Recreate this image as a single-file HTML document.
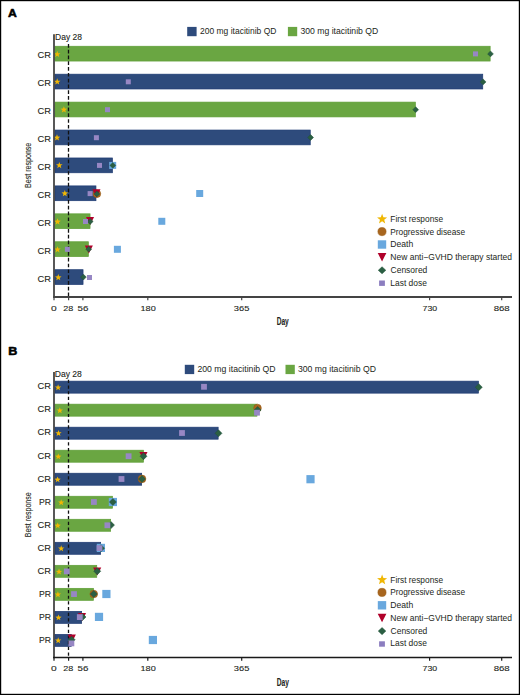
<!DOCTYPE html>
<html><head><meta charset="utf-8"><style>
html,body{margin:0;padding:0;background:#fff;}
body{width:520px;height:695px;overflow:hidden;}
svg{display:block;font-family:"Liberation Sans",sans-serif;}
.frame{position:absolute;left:0;top:0;width:518px;height:693px;border:1px solid #000;border-right-width:1.4px;}
</style></head><body>
<svg width="520" height="695" viewBox="0 0 520 695">
<rect x="0" y="0" width="520" height="695" fill="#fff"/>
<rect x="54.95" y="46.25" width="435.20" height="14.80" fill="#6AA642" stroke="#5E9E36" stroke-width="0.7"/>
<rect x="54.95" y="74.18" width="427.80" height="14.80" fill="#2E4B7C" stroke="#1E3B73" stroke-width="0.7"/>
<rect x="54.95" y="102.11" width="360.40" height="14.80" fill="#6AA642" stroke="#5E9E36" stroke-width="0.7"/>
<rect x="54.95" y="130.04" width="255.30" height="14.80" fill="#2E4B7C" stroke="#1E3B73" stroke-width="0.7"/>
<rect x="54.95" y="157.97" width="57.50" height="14.80" fill="#2E4B7C" stroke="#1E3B73" stroke-width="0.7"/>
<rect x="54.95" y="185.90" width="41.00" height="14.80" fill="#2E4B7C" stroke="#1E3B73" stroke-width="0.7"/>
<rect x="54.95" y="213.83" width="35.10" height="14.80" fill="#6AA642" stroke="#5E9E36" stroke-width="0.7"/>
<rect x="54.95" y="241.76" width="33.40" height="14.80" fill="#6AA642" stroke="#5E9E36" stroke-width="0.7"/>
<rect x="54.95" y="269.69" width="28.10" height="14.80" fill="#2E4B7C" stroke="#1E3B73" stroke-width="0.7"/>
<line x1="68.50" y1="44.00" x2="68.50" y2="297.00" stroke="#111" stroke-width="1.3" stroke-dasharray="3.7,2.08"/>
<polygon points="57.20,50.85 58.05,53.13 60.48,53.23 58.58,54.75 59.23,57.09 57.20,55.75 55.17,57.09 55.82,54.75 53.92,53.23 56.35,53.13" fill="#F0B704"/>
<polygon points="487.60,53.90 490.50,51.00 493.40,53.90 490.50,56.80" fill="#2B5F43" stroke="#1F5236" stroke-width="0.5" stroke-linejoin="round"/>
<rect x="473.00" y="51.40" width="5.00" height="5.00" fill="#9787C4" />
<polygon points="57.20,78.35 58.05,80.63 60.48,80.73 58.58,82.25 59.23,84.59 57.20,83.25 55.17,84.59 55.82,82.25 53.92,80.73 56.35,80.63" fill="#F0B704"/>
<polygon points="480.20,81.90 483.10,79.00 486.00,81.90 483.10,84.80" fill="#2B5F43" stroke="#1F5236" stroke-width="0.5" stroke-linejoin="round"/>
<rect x="125.80" y="79.30" width="5.00" height="5.00" fill="#9787C4" />
<polygon points="63.90,106.25 64.75,108.53 67.18,108.63 65.28,110.15 65.93,112.49 63.90,111.15 61.87,112.49 62.52,110.15 60.62,108.63 63.05,108.53" fill="#F0B704"/>
<polygon points="412.80,109.70 415.70,106.80 418.60,109.70 415.70,112.60" fill="#2B5F43" stroke="#1F5236" stroke-width="0.5" stroke-linejoin="round"/>
<rect x="105.00" y="107.20" width="5.00" height="5.00" fill="#9787C4" />
<polygon points="57.00,134.25 57.85,136.53 60.28,136.63 58.38,138.15 59.03,140.49 57.00,139.15 54.97,140.49 55.62,138.15 53.72,136.63 56.15,136.53" fill="#F0B704"/>
<polygon points="307.70,137.50 310.60,134.60 313.50,137.50 310.60,140.40" fill="#2B5F43" stroke="#1F5236" stroke-width="0.5" stroke-linejoin="round"/>
<rect x="93.90" y="135.20" width="5.00" height="5.00" fill="#9787C4" />
<polygon points="59.30,161.95 60.15,164.23 62.58,164.33 60.68,165.85 61.33,168.19 59.30,166.85 57.27,168.19 57.92,165.85 56.02,164.33 58.45,164.23" fill="#F0B704"/>
<rect x="109.20" y="161.90" width="7.00" height="7.00" fill="#69A8DE" />
<polygon points="109.90,165.40 112.80,162.50 115.70,165.40 112.80,168.30" fill="#2B5F43" stroke="#1F5236" stroke-width="0.5" stroke-linejoin="round"/>
<rect x="97.00" y="162.90" width="5.00" height="5.00" fill="#9787C4" />
<polygon points="64.80,190.05 65.65,192.33 68.08,192.43 66.18,193.95 66.83,196.29 64.80,194.95 62.77,196.29 63.42,193.95 61.52,192.43 63.95,192.33" fill="#F0B704"/>
<rect x="196.20" y="190.00" width="7.00" height="7.00" fill="#69A8DE" />
<circle cx="96.90" cy="193.80" r="3.85" fill="#A8661F" stroke="#96560F" stroke-width="0.5"/>
<polygon points="92.40,189.20 100.50,189.20 96.45,197.20" fill="#B0002A"/>
<polygon points="94.00,193.90 96.90,191.00 99.80,193.90 96.90,196.80" fill="#2B5F43" stroke="#1F5236" stroke-width="0.5" stroke-linejoin="round"/>
<rect x="87.60" y="191.10" width="5.00" height="5.00" fill="#9787C4" />
<polygon points="57.50,218.25 58.35,220.53 60.78,220.63 58.88,222.15 59.53,224.49 57.50,223.15 55.47,224.49 56.12,222.15 54.22,220.63 56.65,220.53" fill="#F0B704"/>
<rect x="158.30" y="217.80" width="7.00" height="7.00" fill="#69A8DE" />
<polygon points="86.00,217.10 94.10,217.10 90.05,225.10" fill="#B0002A"/>
<polygon points="87.30,221.50 90.20,218.60 93.10,221.50 90.20,224.40" fill="#2B5F43" stroke="#1F5236" stroke-width="0.5" stroke-linejoin="round"/>
<rect x="83.00" y="219.00" width="5.00" height="5.00" fill="#9787C4" />
<polygon points="57.50,246.15 58.35,248.43 60.78,248.53 58.88,250.05 59.53,252.39 57.50,251.05 55.47,252.39 56.12,250.05 54.22,248.53 56.65,248.43" fill="#F0B704"/>
<rect x="113.90" y="245.80" width="7.00" height="7.00" fill="#69A8DE" />
<polygon points="84.80,245.40 92.90,245.40 88.85,253.40" fill="#B0002A"/>
<polygon points="85.80,249.20 88.70,246.30 91.60,249.20 88.70,252.10" fill="#2B5F43" stroke="#1F5236" stroke-width="0.5" stroke-linejoin="round"/>
<rect x="64.90" y="246.80" width="5.00" height="5.00" fill="#9787C4" />
<polygon points="58.30,274.05 59.15,276.33 61.58,276.43 59.68,277.95 60.33,280.29 58.30,278.95 56.27,280.29 56.92,277.95 55.02,276.43 57.45,276.33" fill="#F0B704"/>
<polygon points="80.50,277.10 83.40,274.20 86.30,277.10 83.40,280.00" fill="#2B5F43" stroke="#1F5236" stroke-width="0.5" stroke-linejoin="round"/>
<rect x="87.00" y="275.00" width="5.00" height="5.00" fill="#9787C4" />
<text x="37.53" y="58.15" font-size="8.9" font-weight="normal" fill="#231F20" textLength="13.40" lengthAdjust="spacingAndGlyphs"  stroke="#231F20" stroke-width="0.1">CR</text>
<text x="37.53" y="86.08" font-size="8.9" font-weight="normal" fill="#231F20" textLength="13.40" lengthAdjust="spacingAndGlyphs"  stroke="#231F20" stroke-width="0.1">CR</text>
<text x="37.53" y="114.01" font-size="8.9" font-weight="normal" fill="#231F20" textLength="13.40" lengthAdjust="spacingAndGlyphs"  stroke="#231F20" stroke-width="0.1">CR</text>
<text x="37.53" y="141.94" font-size="8.9" font-weight="normal" fill="#231F20" textLength="13.40" lengthAdjust="spacingAndGlyphs"  stroke="#231F20" stroke-width="0.1">CR</text>
<text x="37.53" y="169.87" font-size="8.9" font-weight="normal" fill="#231F20" textLength="13.40" lengthAdjust="spacingAndGlyphs"  stroke="#231F20" stroke-width="0.1">CR</text>
<text x="37.53" y="197.80" font-size="8.9" font-weight="normal" fill="#231F20" textLength="13.40" lengthAdjust="spacingAndGlyphs"  stroke="#231F20" stroke-width="0.1">CR</text>
<text x="37.53" y="225.73" font-size="8.9" font-weight="normal" fill="#231F20" textLength="13.40" lengthAdjust="spacingAndGlyphs"  stroke="#231F20" stroke-width="0.1">CR</text>
<text x="37.53" y="253.66" font-size="8.9" font-weight="normal" fill="#231F20" textLength="13.40" lengthAdjust="spacingAndGlyphs"  stroke="#231F20" stroke-width="0.1">CR</text>
<text x="37.53" y="281.59" font-size="8.9" font-weight="normal" fill="#231F20" textLength="13.40" lengthAdjust="spacingAndGlyphs"  stroke="#231F20" stroke-width="0.1">CR</text>
<line x1="54.00" y1="34.20" x2="54.00" y2="297.80" stroke="#3a3a3a" stroke-width="1.7" />
<line x1="53.20" y1="297.00" x2="512.00" y2="297.00" stroke="#444" stroke-width="2.0" />
<line x1="54.00" y1="297.00" x2="54.00" y2="300.20" stroke="#444" stroke-width="1.2" />
<text x="50.90" y="310.80" font-size="7.8" font-weight="normal" fill="#231F20" textLength="5.70" lengthAdjust="spacingAndGlyphs"  stroke="#231F20" stroke-width="0.1">0</text>
<line x1="68.60" y1="297.00" x2="68.60" y2="300.20" stroke="#444" stroke-width="1.2" />
<text x="63.35" y="310.80" font-size="7.8" font-weight="normal" fill="#231F20" textLength="10.05" lengthAdjust="spacingAndGlyphs"  stroke="#231F20" stroke-width="0.1">28</text>
<line x1="82.90" y1="297.00" x2="82.90" y2="300.20" stroke="#444" stroke-width="1.2" />
<text x="77.51" y="310.80" font-size="7.8" font-weight="normal" fill="#231F20" textLength="10.82" lengthAdjust="spacingAndGlyphs"  stroke="#231F20" stroke-width="0.1">56</text>
<line x1="147.80" y1="297.00" x2="147.80" y2="300.20" stroke="#444" stroke-width="1.2" />
<text x="140.50" y="310.80" font-size="7.8" font-weight="normal" fill="#231F20" textLength="15.25" lengthAdjust="spacingAndGlyphs"  stroke="#231F20" stroke-width="0.1">180</text>
<line x1="241.70" y1="297.00" x2="241.70" y2="300.20" stroke="#444" stroke-width="1.2" />
<text x="233.85" y="310.80" font-size="7.8" font-weight="normal" fill="#231F20" textLength="15.55" lengthAdjust="spacingAndGlyphs"  stroke="#231F20" stroke-width="0.1">365</text>
<line x1="429.60" y1="297.00" x2="429.60" y2="300.20" stroke="#444" stroke-width="1.2" />
<text x="422.55" y="310.80" font-size="7.8" font-weight="normal" fill="#231F20" textLength="14.59" lengthAdjust="spacingAndGlyphs"  stroke="#231F20" stroke-width="0.1">730</text>
<line x1="501.70" y1="297.00" x2="501.70" y2="300.20" stroke="#444" stroke-width="1.2" />
<text x="493.68" y="310.80" font-size="7.8" font-weight="normal" fill="#231F20" textLength="16.04" lengthAdjust="spacingAndGlyphs"  stroke="#231F20" stroke-width="0.1">868</text>
<rect x="54.95" y="381.15" width="423.50" height="12.00" fill="#2E4B7C" stroke="#1E3B73" stroke-width="0.7"/>
<rect x="54.95" y="404.17" width="202.00" height="12.00" fill="#6AA642" stroke="#5E9E36" stroke-width="0.7"/>
<rect x="54.95" y="427.19" width="163.20" height="12.00" fill="#2E4B7C" stroke="#1E3B73" stroke-width="0.7"/>
<rect x="54.95" y="450.21" width="88.50" height="12.00" fill="#6AA642" stroke="#5E9E36" stroke-width="0.7"/>
<rect x="54.95" y="473.23" width="86.70" height="12.00" fill="#2E4B7C" stroke="#1E3B73" stroke-width="0.7"/>
<rect x="54.95" y="496.25" width="57.60" height="12.00" fill="#6AA642" stroke="#5E9E36" stroke-width="0.7"/>
<rect x="54.95" y="519.27" width="55.70" height="12.00" fill="#6AA642" stroke="#5E9E36" stroke-width="0.7"/>
<rect x="54.95" y="542.29" width="45.70" height="12.00" fill="#2E4B7C" stroke="#1E3B73" stroke-width="0.7"/>
<rect x="54.95" y="565.31" width="41.80" height="12.00" fill="#6AA642" stroke="#5E9E36" stroke-width="0.7"/>
<rect x="54.95" y="588.33" width="38.45" height="12.00" fill="#6AA642" stroke="#5E9E36" stroke-width="0.7"/>
<rect x="54.95" y="611.35" width="26.70" height="12.00" fill="#2E4B7C" stroke="#1E3B73" stroke-width="0.7"/>
<rect x="54.95" y="634.37" width="16.30" height="12.00" fill="#2E4B7C" stroke="#1E3B73" stroke-width="0.7"/>
<line x1="68.50" y1="379.80" x2="68.50" y2="657.50" stroke="#111" stroke-width="1.3" stroke-dasharray="3.2,2.48"/>
<polygon points="58.10,384.20 58.91,386.38 61.24,386.48 59.42,387.93 60.04,390.17 58.10,388.89 56.16,390.17 56.78,387.93 54.96,386.48 57.29,386.38" fill="#F0B704"/>
<polygon points="475.30,387.20 478.80,383.70 482.30,387.20 478.80,390.70" fill="#2B5F43" stroke="#1F5236" stroke-width="0.5" stroke-linejoin="round"/>
<rect x="201.10" y="383.90" width="5.80" height="5.80" fill="#9787C4" />
<polygon points="59.80,407.30 60.61,409.48 62.94,409.58 61.12,411.03 61.74,413.27 59.80,411.99 57.86,413.27 58.48,411.03 56.66,409.58 58.99,409.48" fill="#F0B704"/>
<circle cx="257.50" cy="408.00" r="3.85" fill="#A8661F" stroke="#96560F" stroke-width="0.5"/>
<polygon points="254.10,410.00 257.60,406.50 261.10,410.00 257.60,413.50" fill="#2B5F43" stroke="#1F5236" stroke-width="0.5" stroke-linejoin="round"/>
<rect x="254.10" y="409.80" width="5.80" height="5.80" fill="#9787C4" />
<polygon points="58.50,430.00 59.31,432.18 61.64,432.28 59.82,433.73 60.44,435.97 58.50,434.69 56.56,435.97 57.18,433.73 55.36,432.28 57.69,432.18" fill="#F0B704"/>
<polygon points="215.00,433.30 218.50,429.80 222.00,433.30 218.50,436.80" fill="#2B5F43" stroke="#1F5236" stroke-width="0.5" stroke-linejoin="round"/>
<rect x="179.10" y="430.10" width="5.80" height="5.80" fill="#9787C4" />
<polygon points="58.30,453.40 59.11,455.58 61.44,455.68 59.62,457.13 60.24,459.37 58.30,458.09 56.36,459.37 56.98,457.13 55.16,455.68 57.49,455.58" fill="#F0B704"/>
<polygon points="139.40,451.90 147.50,451.90 143.45,459.90" fill="#B0002A"/>
<polygon points="140.00,456.20 143.50,452.70 147.00,456.20 143.50,459.70" fill="#2B5F43" stroke="#1F5236" stroke-width="0.5" stroke-linejoin="round"/>
<rect x="125.70" y="453.30" width="5.80" height="5.80" fill="#9787C4" />
<polygon points="57.60,476.40 58.41,478.58 60.74,478.68 58.92,480.13 59.54,482.37 57.60,481.09 55.66,482.37 56.28,480.13 54.46,478.68 56.79,478.58" fill="#F0B704"/>
<rect x="306.40" y="475.10" width="8.20" height="8.20" fill="#69A8DE" />
<circle cx="142.00" cy="478.90" r="3.85" fill="#A8661F" stroke="#96560F" stroke-width="0.5"/>
<polygon points="138.50,479.00 142.00,475.50 145.50,479.00 142.00,482.50" fill="#2B5F43" stroke="#1F5236" stroke-width="0.5" stroke-linejoin="round"/>
<rect x="118.60" y="476.10" width="5.80" height="5.80" fill="#9787C4" />
<polygon points="61.20,499.30 62.01,501.48 64.34,501.58 62.52,503.03 63.14,505.27 61.20,503.99 59.26,505.27 59.88,503.03 58.06,501.58 60.39,501.48" fill="#F0B704"/>
<rect x="108.80" y="497.90" width="8.20" height="8.20" fill="#69A8DE" />
<polygon points="109.40,502.00 112.90,498.50 116.40,502.00 112.90,505.50" fill="#2B5F43" stroke="#1F5236" stroke-width="0.5" stroke-linejoin="round"/>
<rect x="91.00" y="499.10" width="5.80" height="5.80" fill="#9787C4" />
<polygon points="57.70,522.40 58.51,524.58 60.84,524.68 59.02,526.13 59.64,528.37 57.70,527.09 55.76,528.37 56.38,526.13 54.56,524.68 56.89,524.58" fill="#F0B704"/>
<polygon points="107.50,525.10 111.00,521.60 114.50,525.10 111.00,528.60" fill="#2B5F43" stroke="#1F5236" stroke-width="0.5" stroke-linejoin="round"/>
<rect x="104.50" y="522.40" width="5.80" height="5.80" fill="#9787C4" />
<polygon points="61.20,545.20 62.01,547.38 64.34,547.48 62.52,548.93 63.14,551.17 61.20,549.89 59.26,551.17 59.88,548.93 58.06,547.48 60.39,547.38" fill="#F0B704"/>
<rect x="96.80" y="543.80" width="8.20" height="8.20" fill="#69A8DE" />
<polygon points="97.50,548.20 101.00,544.70 104.50,548.20 101.00,551.70" fill="#2B5F43" stroke="#1F5236" stroke-width="0.5" stroke-linejoin="round"/>
<rect x="96.60" y="545.20" width="5.80" height="5.80" fill="#9787C4" />
<polygon points="59.00,568.60 59.81,570.78 62.14,570.88 60.32,572.33 60.94,574.57 59.00,573.29 57.06,574.57 57.68,572.33 55.86,570.88 58.19,570.78" fill="#F0B704"/>
<polygon points="93.10,567.50 101.25,567.50 97.17,575.50" fill="#B0002A"/>
<polygon points="93.75,571.25 97.25,567.75 100.75,571.25 97.25,574.75" fill="#2B5F43" stroke="#1F5236" stroke-width="0.5" stroke-linejoin="round"/>
<rect x="63.90" y="568.50" width="5.80" height="5.80" fill="#9787C4" />
<polygon points="57.90,591.30 58.71,593.48 61.04,593.58 59.22,595.03 59.84,597.27 57.90,595.99 55.96,597.27 56.58,595.03 54.76,593.58 57.09,593.48" fill="#F0B704"/>
<rect x="102.30" y="589.90" width="8.20" height="8.20" fill="#69A8DE" />
<circle cx="93.75" cy="594.00" r="3.85" fill="#A8661F" stroke="#96560F" stroke-width="0.5"/>
<polygon points="90.25,594.00 93.75,590.50 97.25,594.00 93.75,597.50" fill="#2B5F43" stroke="#1F5236" stroke-width="0.5" stroke-linejoin="round"/>
<rect x="71.10" y="591.20" width="5.80" height="5.80" fill="#9787C4" />
<polygon points="58.50,614.40 59.31,616.58 61.64,616.68 59.82,618.13 60.44,620.37 58.50,619.09 56.56,620.37 57.18,618.13 55.36,616.68 57.69,616.58" fill="#F0B704"/>
<rect x="94.90" y="612.80" width="8.20" height="8.20" fill="#69A8DE" />
<polygon points="78.00,613.10 86.10,613.10 82.05,621.10" fill="#B0002A"/>
<polygon points="79.00,617.00 82.50,613.50 86.00,617.00 82.50,620.50" fill="#2B5F43" stroke="#1F5236" stroke-width="0.5" stroke-linejoin="round"/>
<rect x="76.90" y="614.20" width="5.80" height="5.80" fill="#9787C4" />
<polygon points="58.20,637.30 59.01,639.48 61.34,639.58 59.52,641.03 60.14,643.27 58.20,641.99 56.26,643.27 56.88,641.03 55.06,639.58 57.39,639.48" fill="#F0B704"/>
<rect x="148.80" y="635.90" width="8.20" height="8.20" fill="#69A8DE" />
<polygon points="67.70,634.50 75.90,634.50 71.80,642.50" fill="#B0002A"/>
<polygon points="68.10,639.70 71.60,636.20 75.10,639.70 71.60,643.20" fill="#2B5F43" stroke="#1F5236" stroke-width="0.5" stroke-linejoin="round"/>
<rect x="68.50" y="640.50" width="5.80" height="5.80" fill="#9787C4" />
<text x="37.53" y="389.45" font-size="8.9" font-weight="normal" fill="#231F20" textLength="13.40" lengthAdjust="spacingAndGlyphs"  stroke="#231F20" stroke-width="0.1">CR</text>
<text x="37.53" y="412.47" font-size="8.9" font-weight="normal" fill="#231F20" textLength="13.40" lengthAdjust="spacingAndGlyphs"  stroke="#231F20" stroke-width="0.1">CR</text>
<text x="37.53" y="435.49" font-size="8.9" font-weight="normal" fill="#231F20" textLength="13.40" lengthAdjust="spacingAndGlyphs"  stroke="#231F20" stroke-width="0.1">CR</text>
<text x="37.53" y="458.51" font-size="8.9" font-weight="normal" fill="#231F20" textLength="13.40" lengthAdjust="spacingAndGlyphs"  stroke="#231F20" stroke-width="0.1">CR</text>
<text x="37.53" y="481.53" font-size="8.9" font-weight="normal" fill="#231F20" textLength="13.40" lengthAdjust="spacingAndGlyphs"  stroke="#231F20" stroke-width="0.1">CR</text>
<text x="38.89" y="504.55" font-size="8.9" font-weight="normal" fill="#231F20" textLength="12.01" lengthAdjust="spacingAndGlyphs"  stroke="#231F20" stroke-width="0.1">PR</text>
<text x="37.53" y="527.57" font-size="8.9" font-weight="normal" fill="#231F20" textLength="13.40" lengthAdjust="spacingAndGlyphs"  stroke="#231F20" stroke-width="0.1">CR</text>
<text x="37.53" y="550.59" font-size="8.9" font-weight="normal" fill="#231F20" textLength="13.40" lengthAdjust="spacingAndGlyphs"  stroke="#231F20" stroke-width="0.1">CR</text>
<text x="37.53" y="573.61" font-size="8.9" font-weight="normal" fill="#231F20" textLength="13.40" lengthAdjust="spacingAndGlyphs"  stroke="#231F20" stroke-width="0.1">CR</text>
<text x="38.89" y="596.63" font-size="8.9" font-weight="normal" fill="#231F20" textLength="12.01" lengthAdjust="spacingAndGlyphs"  stroke="#231F20" stroke-width="0.1">PR</text>
<text x="38.89" y="619.65" font-size="8.9" font-weight="normal" fill="#231F20" textLength="12.01" lengthAdjust="spacingAndGlyphs"  stroke="#231F20" stroke-width="0.1">PR</text>
<text x="38.89" y="642.67" font-size="8.9" font-weight="normal" fill="#231F20" textLength="12.01" lengthAdjust="spacingAndGlyphs"  stroke="#231F20" stroke-width="0.1">PR</text>
<line x1="54.00" y1="371.90" x2="54.00" y2="658.30" stroke="#3a3a3a" stroke-width="1.7" />
<line x1="53.20" y1="657.50" x2="512.00" y2="657.50" stroke="#1a1a1a" stroke-width="1.5" />
<line x1="54.00" y1="657.50" x2="54.00" y2="660.70" stroke="#1a1a1a" stroke-width="1.2" />
<text x="50.90" y="671.40" font-size="7.8" font-weight="normal" fill="#231F20" textLength="5.70" lengthAdjust="spacingAndGlyphs"  stroke="#231F20" stroke-width="0.1">0</text>
<line x1="68.60" y1="657.50" x2="68.60" y2="660.70" stroke="#1a1a1a" stroke-width="1.2" />
<text x="63.35" y="671.40" font-size="7.8" font-weight="normal" fill="#231F20" textLength="10.05" lengthAdjust="spacingAndGlyphs"  stroke="#231F20" stroke-width="0.1">28</text>
<line x1="82.90" y1="657.50" x2="82.90" y2="660.70" stroke="#1a1a1a" stroke-width="1.2" />
<text x="77.51" y="671.40" font-size="7.8" font-weight="normal" fill="#231F20" textLength="10.82" lengthAdjust="spacingAndGlyphs"  stroke="#231F20" stroke-width="0.1">56</text>
<line x1="147.80" y1="657.50" x2="147.80" y2="660.70" stroke="#1a1a1a" stroke-width="1.2" />
<text x="140.50" y="671.40" font-size="7.8" font-weight="normal" fill="#231F20" textLength="15.25" lengthAdjust="spacingAndGlyphs"  stroke="#231F20" stroke-width="0.1">180</text>
<line x1="241.70" y1="657.50" x2="241.70" y2="660.70" stroke="#1a1a1a" stroke-width="1.2" />
<text x="233.85" y="671.40" font-size="7.8" font-weight="normal" fill="#231F20" textLength="15.55" lengthAdjust="spacingAndGlyphs"  stroke="#231F20" stroke-width="0.1">365</text>
<line x1="429.60" y1="657.50" x2="429.60" y2="660.70" stroke="#1a1a1a" stroke-width="1.2" />
<text x="422.55" y="671.40" font-size="7.8" font-weight="normal" fill="#231F20" textLength="14.59" lengthAdjust="spacingAndGlyphs"  stroke="#231F20" stroke-width="0.1">730</text>
<line x1="501.70" y1="657.50" x2="501.70" y2="660.70" stroke="#1a1a1a" stroke-width="1.2" />
<text x="493.68" y="671.40" font-size="7.8" font-weight="normal" fill="#231F20" textLength="16.04" lengthAdjust="spacingAndGlyphs"  stroke="#231F20" stroke-width="0.1">868</text>
<text x="8.10" y="16.50" font-size="11.8" font-weight="bold" fill="#000" textLength="8.83" lengthAdjust="spacingAndGlyphs" stroke="#000" stroke-width="0.6" stroke-linejoin="round">A</text>
<text x="8.21" y="354.70" font-size="11.8" font-weight="bold" fill="#000" textLength="9.06" lengthAdjust="spacingAndGlyphs" stroke="#000" stroke-width="0.6" stroke-linejoin="round">B</text>
<text x="55.10" y="40.40" font-size="8.8" font-weight="normal" fill="#231F20" textLength="26.97" lengthAdjust="spacingAndGlyphs"  stroke="#231F20" stroke-width="0.1">Day 28</text>
<text x="54.70" y="377.00" font-size="8.8" font-weight="normal" fill="#231F20" textLength="27.18" lengthAdjust="spacingAndGlyphs"  stroke="#231F20" stroke-width="0.1">Day 28</text>
<rect x="187.20" y="26.90" width="9.40" height="9.30" fill="#2E4B7C" />
<text x="200.07" y="34.40" font-size="8.3" font-weight="normal" fill="#231F20" textLength="76.33" lengthAdjust="spacingAndGlyphs" stroke="none">200 mg itacitinib QD</text>
<rect x="287.90" y="26.90" width="9.30" height="9.30" fill="#6AA642" />
<text x="300.47" y="34.40" font-size="8.3" font-weight="normal" fill="#231F20" textLength="77.74" lengthAdjust="spacingAndGlyphs" stroke="none">300 mg itacitinib QD</text>
<rect x="184.80" y="364.80" width="9.40" height="9.30" fill="#2E4B7C" />
<text x="197.46" y="372.10" font-size="8.3" font-weight="normal" fill="#231F20" textLength="78.15" lengthAdjust="spacingAndGlyphs" stroke="none">200 mg itacitinib QD</text>
<rect x="285.50" y="364.80" width="9.30" height="9.30" fill="#6AA642" />
<text x="297.97" y="372.10" font-size="8.3" font-weight="normal" fill="#231F20" textLength="78.04" lengthAdjust="spacingAndGlyphs" stroke="none">300 mg itacitinib QD</text>
<text transform="translate(31.2,187.30) rotate(-90)" x="-0.58" y="0" font-size="8.8" fill="#231F20" stroke="#231F20" stroke-width="0.1" textLength="45.19" lengthAdjust="spacingAndGlyphs">Best response</text>
<text transform="translate(31.2,536.70) rotate(-90)" x="-0.58" y="0" font-size="8.8" fill="#231F20" stroke="#231F20" stroke-width="0.1" textLength="44.89" lengthAdjust="spacingAndGlyphs">Best response</text>
<text x="276.66" y="324.70" font-size="11.2" font-weight="bold" fill="#231F20" textLength="12.08" lengthAdjust="spacingAndGlyphs"  stroke="#231F20" stroke-width="0.1">Day</text>
<text x="276.66" y="685.80" font-size="11.2" font-weight="bold" fill="#231F20" textLength="12.18" lengthAdjust="spacingAndGlyphs"  stroke="#231F20" stroke-width="0.1">Day</text>
<polygon points="382.10,213.80 383.41,217.30 387.14,217.46 384.22,219.79 385.22,223.39 382.10,221.33 378.98,223.39 379.98,219.79 377.06,217.46 380.79,217.30" fill="#F0B704"/>
<circle cx="382.00" cy="231.60" r="4.10" fill="#A8661F" stroke="#96560F" stroke-width="0.5"/>
<rect x="377.80" y="240.30" width="8.40" height="8.40" fill="#69A8DE" />
<polygon points="377.7,252.90 386.4,252.90 382.05,261.50" fill="#B0002A"/>
<polygon points="378.25,270.30 382.05,266.75 385.85,270.30 382.05,273.85" fill="#2B5F43" stroke="#1F5236" stroke-width="0.5" stroke-linejoin="round"/>
<rect x="379.10" y="280.50" width="5.80" height="5.40" fill="#8B7DBF" />
<text x="390.32" y="221.70" font-size="8.6" font-weight="normal" fill="#231F20" textLength="52.75" lengthAdjust="spacingAndGlyphs" stroke="none">First response</text>
<text x="390.32" y="234.50" font-size="8.6" font-weight="normal" fill="#231F20" textLength="74.75" lengthAdjust="spacingAndGlyphs" stroke="none">Progressive disease</text>
<text x="390.29" y="247.20" font-size="8.6" font-weight="normal" fill="#231F20" textLength="22.96" lengthAdjust="spacingAndGlyphs" stroke="none">Death</text>
<text x="390.30" y="260.20" font-size="8.6" font-weight="normal" fill="#231F20" textLength="121.65" lengthAdjust="spacingAndGlyphs" stroke="none">New anti−GVHD therapy started</text>
<text x="390.57" y="273.10" font-size="8.6" font-weight="normal" fill="#231F20" textLength="36.78" lengthAdjust="spacingAndGlyphs" stroke="none">Censored</text>
<text x="390.31" y="285.60" font-size="8.6" font-weight="normal" fill="#231F20" textLength="36.57" lengthAdjust="spacingAndGlyphs" stroke="none">Last dose</text>
<polygon points="382.10,574.60 383.41,578.10 387.14,578.26 384.22,580.59 385.22,584.19 382.10,582.13 378.98,584.19 379.98,580.59 377.06,578.26 380.79,578.10" fill="#F0B704"/>
<circle cx="382.00" cy="592.40" r="4.10" fill="#A8661F" stroke="#96560F" stroke-width="0.5"/>
<rect x="377.80" y="601.10" width="8.40" height="8.40" fill="#69A8DE" />
<polygon points="377.7,613.70 386.4,613.70 382.05,622.30" fill="#B0002A"/>
<polygon points="378.25,631.10 382.05,627.55 385.85,631.10 382.05,634.65" fill="#2B5F43" stroke="#1F5236" stroke-width="0.5" stroke-linejoin="round"/>
<rect x="379.10" y="641.30" width="5.80" height="5.40" fill="#8B7DBF" />
<text x="390.32" y="582.50" font-size="8.6" font-weight="normal" fill="#231F20" textLength="52.75" lengthAdjust="spacingAndGlyphs" stroke="none">First response</text>
<text x="390.32" y="595.30" font-size="8.6" font-weight="normal" fill="#231F20" textLength="74.75" lengthAdjust="spacingAndGlyphs" stroke="none">Progressive disease</text>
<text x="390.29" y="608.00" font-size="8.6" font-weight="normal" fill="#231F20" textLength="22.96" lengthAdjust="spacingAndGlyphs" stroke="none">Death</text>
<text x="390.30" y="621.00" font-size="8.6" font-weight="normal" fill="#231F20" textLength="121.65" lengthAdjust="spacingAndGlyphs" stroke="none">New anti−GVHD therapy started</text>
<text x="390.57" y="633.90" font-size="8.6" font-weight="normal" fill="#231F20" textLength="36.78" lengthAdjust="spacingAndGlyphs" stroke="none">Censored</text>
<text x="390.31" y="646.40" font-size="8.6" font-weight="normal" fill="#231F20" textLength="36.57" lengthAdjust="spacingAndGlyphs" stroke="none">Last dose</text>
<rect x="0" y="0" width="1.2" height="695" fill="#000"/><rect x="0" y="0" width="520" height="1.2" fill="#000"/><rect x="518.8" y="0" width="1.2" height="695" fill="#000"/><rect x="0" y="693.8" width="520" height="1.2" fill="#000"/>
</svg>
</body></html>
